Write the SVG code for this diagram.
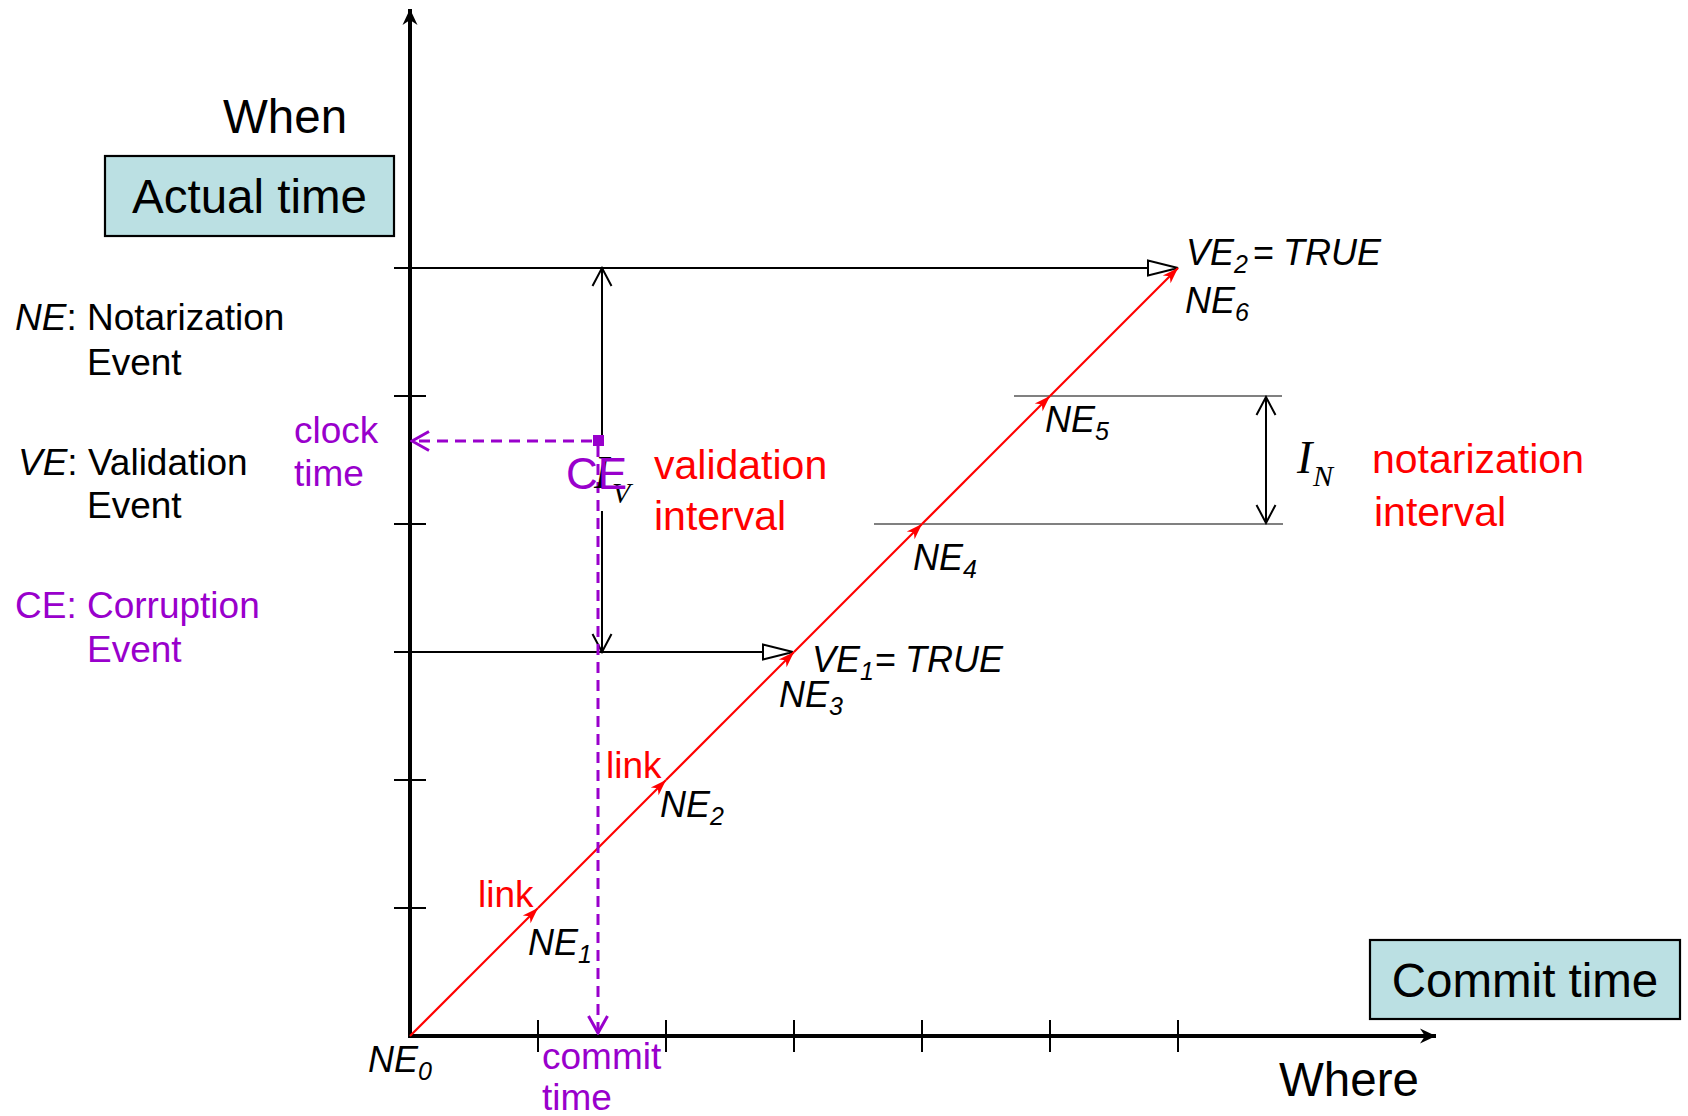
<svg xmlns="http://www.w3.org/2000/svg" width="1688" height="1116" viewBox="0 0 1688 1116">
<style>
text{font-family:"Liberation Sans",Arial,sans-serif;}
.k{fill:#000;}
.r{fill:#FF0000;}
.p{fill:#9900CC;}
.s37{font-size:37px;}
.s41{font-size:41px;}
.s47{font-size:47.5px;}
.ne{font-size:36px;font-style:italic;fill:#000;}
.sub{font-size:25px;}
.math{font-family:"Liberation Serif","Times New Roman",serif;font-style:italic;fill:#000;}
.axis{stroke:#000;stroke-width:4;fill:none;}
.tick{stroke:#000;stroke-width:2;fill:none;}
.thin{stroke:#000;stroke-width:2;fill:none;}
.gray{stroke:#808080;stroke-width:2;fill:none;}
.red{stroke:#FF0000;stroke-width:2.2;fill:none;}
.pdash{stroke:#9900CC;stroke-width:3;stroke-dasharray:11 7;fill:none;}
.box{fill:#BBE0E3;stroke:#000;stroke-width:2.2;}
</style>
<defs>
<marker id="axisArrow" markerUnits="userSpaceOnUse" viewBox="-18 -9 19 18" markerWidth="19" markerHeight="18" refX="0" refY="0" orient="auto">
<path d="M0,0 L-16,-7.5 L-11,0 L-16,7.5 Z" fill="#000"/>
</marker>
<marker id="openTri" markerUnits="userSpaceOnUse" viewBox="-33 -10 35 20" markerWidth="35" markerHeight="20" refX="0" refY="0" orient="auto">
<path d="M0,0 L-30,-7.5 L-30,7.5 Z" fill="#fff" stroke="#000" stroke-width="2"/>
</marker>
<marker id="openV" markerUnits="userSpaceOnUse" viewBox="-20 -12 22 24" markerWidth="22" markerHeight="24" refX="0" refY="0" orient="auto-start-reverse">
<path d="M-18,-9.5 L0,0 L-18,9.5" fill="none" stroke="#000" stroke-width="2"/>
</marker>
<marker id="purpleV" markerUnits="userSpaceOnUse" viewBox="-20 -12 22 24" markerWidth="22" markerHeight="24" refX="0" refY="0" orient="auto">
<path d="M-17,-9.5 L0,0 L-17,9.5" fill="none" stroke="#9900CC" stroke-width="3"/>
</marker>
<marker id="redArrow" markerUnits="userSpaceOnUse" viewBox="-17 -7 18 14" markerWidth="18" markerHeight="14" refX="0" refY="0" orient="auto">
<path d="M0,0 L-16,-5.5 L-11.5,0 L-16,5.5 Z" fill="#FF0000"/>
</marker>
</defs>
<rect width="1688" height="1116" fill="#fff"/>

<g id="axes">
<line class="axis" x1="410" y1="1038" x2="410" y2="9" marker-end="url(#axisArrow)"/>
<line class="axis" x1="408" y1="1036" x2="1436" y2="1036" marker-end="url(#axisArrow)"/>
<g id="y-ticks">
<line class="tick" x1="394" y1="268" x2="426" y2="268"/>
<line class="tick" x1="394" y1="396" x2="426" y2="396"/>
<line class="tick" x1="394" y1="524" x2="426" y2="524"/>
<line class="tick" x1="394" y1="652" x2="426" y2="652"/>
<line class="tick" x1="394" y1="780" x2="426" y2="780"/>
<line class="tick" x1="394" y1="908" x2="426" y2="908"/>
</g>
<g id="x-ticks">
<line class="tick" x1="538" y1="1020" x2="538" y2="1052"/>
<line class="tick" x1="666" y1="1020" x2="666" y2="1052"/>
<line class="tick" x1="794" y1="1020" x2="794" y2="1052"/>
<line class="tick" x1="922" y1="1020" x2="922" y2="1052"/>
<line class="tick" x1="1050" y1="1020" x2="1050" y2="1052"/>
<line class="tick" x1="1178" y1="1020" x2="1178" y2="1052"/>
</g>
<text class="k s47" x="223" y="133">When</text>
<text class="k s47" x="1279" y="1096">Where</text>
</g>

<g id="actual-time">
<rect class="box" x="105" y="156" width="289" height="80"/>
<text class="k s47" x="249.5" y="213" text-anchor="middle">Actual time</text>
</g>
<g id="commit-time">
<rect class="box" x="1370" y="940" width="310" height="79"/>
<text class="k s47" x="1525" y="997" text-anchor="middle">Commit time</text>
</g>

<g id="legend">
<text class="k s37" x="15" y="330"><tspan font-style="italic">NE</tspan>: Notarization</text>
<text class="k s37" x="87" y="375">Event</text>
<text class="k s37" x="18" y="475"><tspan font-style="italic">VE</tspan>: Validation</text>
<text class="k s37" x="87" y="518">Event</text>
<text class="p s37" x="15" y="618">CE: Corruption</text>
<text class="p s37" x="87" y="662">Event</text>
</g>

<g id="connectors">
<line class="gray" x1="1014" y1="396" x2="1282" y2="396"/>
<line class="gray" x1="874" y1="524" x2="1283" y2="524"/>
<line class="thin" x1="394" y1="268" x2="1178" y2="268" marker-end="url(#openTri)"/>
<line class="thin" x1="394" y1="652" x2="793" y2="652" marker-end="url(#openTri)"/>
<line class="red" x1="410" y1="1036" x2="538" y2="908" marker-end="url(#redArrow)"/>
<line class="red" x1="538" y1="908" x2="666" y2="780" marker-end="url(#redArrow)"/>
<line class="red" x1="666" y1="780" x2="794" y2="652" marker-end="url(#redArrow)"/>
<line class="red" x1="794" y1="652" x2="922" y2="524" marker-end="url(#redArrow)"/>
<line class="red" x1="922" y1="524" x2="1050" y2="396" marker-end="url(#redArrow)"/>
<line class="red" x1="1050" y1="396" x2="1178" y2="268" marker-end="url(#redArrow)"/>
<line class="thin" x1="602" y1="435" x2="602" y2="268" marker-end="url(#openV)"/>
<line class="thin" x1="602" y1="511" x2="602" y2="652" marker-end="url(#openV)"/>
<line class="thin" x1="1266" y1="397" x2="1266" y2="523" marker-start="url(#openV)" marker-end="url(#openV)"/>
<line class="pdash" x1="592" y1="441" x2="412" y2="441" marker-end="url(#purpleV)"/>
<line class="pdash" x1="598" y1="446" x2="598" y2="1033" marker-end="url(#purpleV)"/>
</g>

<g id="corruption-event">
<rect x="593" y="435" width="11" height="11" fill="#9900CC"/>
<text class="math" x="594" y="488" font-size="46">I<tspan x="612" y="503" font-size="30">V</tspan></text>
<text class="p" x="566" y="489" font-size="44">CE</text>
</g>

<g id="labels">
<text class="p s37" x="294" y="443">clock</text>
<text class="p s37" x="294" y="486">time</text>
<text class="p s37" x="542" y="1069">commit</text>
<text class="p s37" x="542" y="1110">time</text>
<text class="r s41" x="654" y="479">validation</text>
<text class="r s41" x="654" y="530">interval</text>
<text class="r s41" x="1372" y="473">notarization</text>
<text class="r s41" x="1374" y="526">interval</text>
<text class="r s37" x="478" y="907">link</text>
<text class="r s37" x="606" y="778">link</text>
<text class="math" x="1297" y="473" font-size="46">I<tspan x="1313" y="486" font-size="30">N</tspan></text>
</g>

<g id="events">
<text class="ne" x="368" y="1072">NE<tspan class="sub" dy="8">0</tspan></text>
<text class="ne" x="528" y="955">NE<tspan class="sub" dy="8">1</tspan></text>
<text class="ne" x="660" y="817">NE<tspan class="sub" dy="8">2</tspan></text>
<text class="ne" x="779" y="707">NE<tspan class="sub" dy="8">3</tspan></text>
<text class="ne" x="913" y="570">NE<tspan class="sub" dy="8">4</tspan></text>
<text class="ne" x="1045" y="432">NE<tspan class="sub" dy="8">5</tspan></text>
<text class="ne" x="1185" y="313">NE<tspan class="sub" dy="8">6</tspan></text>
<text class="ne" x="1186" y="265">VE<tspan class="sub" dy="8">2</tspan><tspan x="1253" y="265" font-style="normal">=</tspan><tspan x="1283" y="265">TRUE</tspan></text>
<text class="ne" x="812" y="672">VE<tspan class="sub" dy="8">1</tspan><tspan x="875" y="672" font-style="normal">=</tspan><tspan x="905" y="672">TRUE</tspan></text>
</g>
</svg>
